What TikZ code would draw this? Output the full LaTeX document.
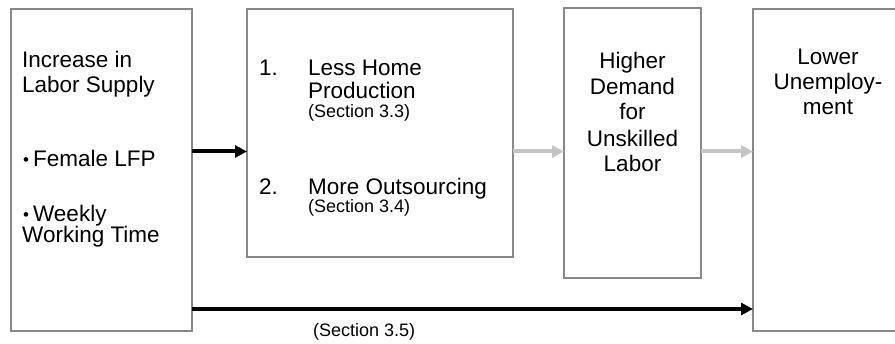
\documentclass[tikz,border=0pt]{standalone}
\usepackage{fontspec}
\setmainfont{Liberation Sans}
\usetikzlibrary{arrows.meta}
\definecolor{boxgray}{RGB}{136,136,136}
\definecolor{arrgray}{RGB}{196,196,196}
\newcommand{\smallbul}{\raisebox{1.5pt}{\fontsize{17}{17}\selectfont•}\hspace{4pt}}
\begin{document}
\begin{tikzpicture}[x=1pt,y=-1pt,
  box/.style={draw=boxgray,line width=2pt,inner sep=0pt,outer sep=0pt,anchor=north west},
  big/.style={inner sep=0pt,font=\fontsize{22.5}{26}\selectfont},
  bigl/.style={big,anchor=base west},
  bigc/.style={big,anchor=base},
  small/.style={inner sep=0pt,font=\fontsize{18}{20}\selectfont,anchor=base west},
  blk/.style={line width=4pt,-{Triangle[length=12pt,width=12pt]}},
  gry/.style={blk,draw=arrgray,color=arrgray}]
\useasboundingbox (0,0) rectangle (895,344);
\clip (0,0) rectangle (895,344);
\fill[white] (0,0) rectangle (895,344);
% boxes
\node[box,minimum width=181pt,minimum height=322pt] (b1) at (11,9) {};
\node[box,minimum width=266pt,minimum height=248pt] (b2) at (247,9) {};
\node[box,minimum width=137pt,minimum height=270pt] (b3) at (564,8) {};
\node[box,minimum width=152pt,minimum height=322pt] (b4) at (753,9) {};
% box 1 text
\node[bigl] (t11) at (22,68) {Increase in};
\node[bigl] (t12) at (22,93) {Labor Supply};
\node[bigl] (t13) at (23,167) {\smallbul Female LFP};
\node[bigl] (t14) at (23,222) {\smallbul Weekly};
\node[bigl] (t15) at (22,243) {Working Time};
% box 2 text
\node[bigl] (n1) at (259,76) {1.};
\node[bigl] (t21) at (308,76) {Less Home};
\node[bigl] (t22) at (308,99) {Production};
\node[small] (s1) at (308,118) {(Section 3.3)};
\node[bigl] (n2) at (259,195) {2.};
\node[bigl] (t23) at (308,195) {More Outsourcing};
\node[small] (s2) at (308,213) {(Section 3.4)};
% box 3 text
\node[bigc] (t31) at (632.5,69) {Higher};
\node[bigc] (t32) at (632.5,95) {Demand};
\node[bigc] (t33) at (632.5,120) {for};
\node[bigc] (t34) at (632.5,147) {Unskilled};
\node[bigc] (t35) at (632.5,172) {Labor};
% box 4 text
\node[bigc] (t41) at (828,65) {Lower};
\node[bigc] (t42) at (828,90) {Unemploy-};
\node[bigc] (t43) at (828,115) {ment};
% arrows
\coordinate (ya) at (0,151.5);
\coordinate (yb) at (0,309);
\draw[blk] (b1.east |- ya) -- (b2.west |- ya);
\draw[gry] (b2.east |- ya) -- (b3.west |- ya);
\draw[gry] (b3.east |- ya) -- (b4.west |- ya);
\draw[blk] (b1.east |- yb) -- (b4.west |- yb);
\node[small] (s3) at (313,337) {(Section 3.5)};
\end{tikzpicture}
\end{document}
